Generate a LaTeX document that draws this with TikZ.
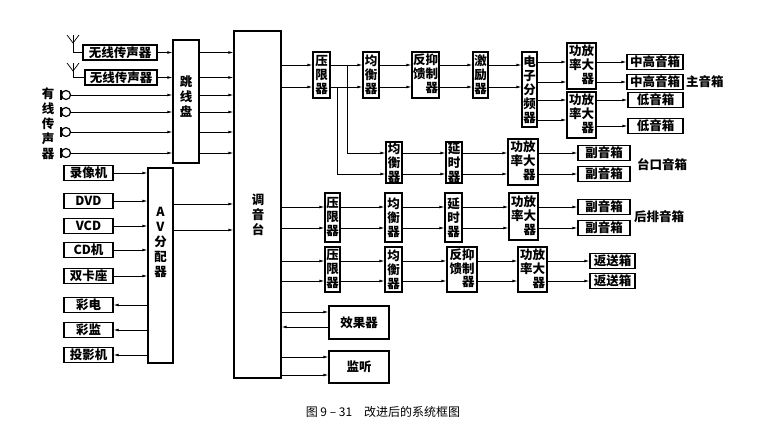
\documentclass[tikz,border=0pt]{standalone}
\usepackage{fontspec}
\setmainfont{Noto Sans CJK SC}
\usetikzlibrary{arrows.meta}
\newcommand\twocol[5]{{\renewcommand\arraystretch{0.8}\begin{tabular}{@{}c@{}c@{}}#1&#3\\#2&#4\\&#5\end{tabular}}}
\newcommand\conn[3]{\draw[arr] (#1.east |- 0,#3) -- (#2.west |- 0,#3);}
\begin{document}
\begin{tikzpicture}[x=1pt,y=-1pt,
  box/.style={draw,line width=1.2pt,inner sep=0pt,align=center,font=\fontsize{12.5}{14}\selectfont\bfseries},
  lbl/.style={inner sep=0pt,align=center,font=\fontsize{12.5}{15}\selectfont\bfseries},
  arr/.style={line width=0.7pt,-{Latex[length=5pt,width=2.8pt]}},
  ln/.style={line width=0.7pt}]
\useasboundingbox (0,0) rectangle (765,431);
% left inputs
\node[box,minimum width=74,minimum height=15] (w1) at (120,52.5) {无线传声器};
\node[box,minimum width=72,minimum height=15] (w2) at (121,77.5) {无线传声器};
\node[box,minimum width=26,minimum height=123,text depth=0] (tx) at (186,101.5) {};
\node[lbl] (txl) at (186,97) {跳\\线\\盘};
\node[box,minimum width=47,minimum height=347] (con) at (257.5,204.5) {};
\node[lbl] (conl) at (258,215) {调\\音\\台};
\node[box,minimum width=25,minimum height=195] (av) at (160.5,265.5) {};
\node[lbl] (avl) at (160.5,242) {A\\V\\分\\配\\器};
\foreach \yy in {35,63}{
  \draw[ln] (67,\yy) -- (73,\yy+8) -- (79,\yy);
}
\coordinate (a1) at (73,35); \coordinate (a2) at (73,63);
\draw[ln] (a1) -- (73,52.5) -- (w1.west);
\draw[ln] (a2) -- (73,77.5) -- (w2.west);
\conn{w1}{tx}{52.5}
\conn{w2}{tx}{77.5}
\foreach \yy [count=\i] in {95,112,132,153}{
  \coordinate (m\i) at (70.5,\yy);
  \draw[line width=1.8pt] (61,\yy-5) -- (61,\yy+5);
  \draw[line width=1.2pt] (66,\yy) circle (4.5);
  \draw[arr] (m\i) -- (tx.west |- 0,\yy);
}
\node[lbl] (wired) at (48,124) {有\\线\\传\\声\\器};
\foreach \yy in {52.5,77.5,95,112,132,153}{ \conn{tx}{con}{\yy} }
% AV
\foreach \t/\yy [count=\i] in {录像机/173,DVD/201,VCD/226,CD机/250,双卡座/276}{
  \node[box,minimum width=49,minimum height=15] (s\i) at (88.5,\yy) {\t};
  \conn{s\i}{av}{\yy}
}
\foreach \t/\yy [count=\i] in {彩电/305,彩监/330,投影机/355}{
  \node[box,minimum width=49,minimum height=15] (d\i) at (88.5,\yy) {\t};
  \draw[arr] (av.west |- 0,\yy) -- (d\i.east);
}
\conn{av}{con}{204}
\conn{av}{con}{230}
% row 1
\node[box,minimum width=17,minimum height=46] (pl1) at (321.5,75) {压\\限\\器};
\node[box,minimum width=16,minimum height=46] (eq1) at (371,75) {均\\衡\\器};
\node[box,minimum width=27,minimum height=46] (fb1) at (425.5,75) {\twocol{反}{馈}{抑}{制}{器}};
\node[box,minimum width=15,minimum height=46] (ex) at (480.5,75) {激\\励\\器};
\node[box,minimum width=15,minimum height=75] (cr) at (529.5,89.5) {电\\子\\分\\频\\器};
\node[box,minimum width=29,minimum height=46] (amp1) at (581.5,66) {\twocol{功}{率}{放}{大}{器}};
\node[box,minimum width=29,minimum height=46] (amp2) at (581.5,115) {\twocol{功}{率}{放}{大}{器}};
\node[box,minimum width=56,minimum height=15] (h1) at (655,62) {中高音箱};
\node[box,minimum width=56,minimum height=15] (h2) at (655,82) {中高音箱};
\node[box,minimum width=55,minimum height=15] (l1) at (655.5,100) {低音箱};
\node[box,minimum width=55,minimum height=15] (l2) at (655.5,126) {低音箱};
\node[lbl,anchor=west] (mainl) at (686,82) {主音箱};
\foreach \yy in {65,87}{ \conn{con}{pl1}{\yy} \conn{pl1}{eq1}{\yy} \conn{eq1}{fb1}{\yy} \conn{fb1}{ex}{\yy} \conn{ex}{cr}{\yy} }
\conn{cr}{amp1}{62} \conn{cr}{amp1}{82}
\conn{cr}{amp2}{100} \conn{cr}{amp2}{120}
\conn{amp1}{h1}{62} \conn{amp1}{h2}{82}
\conn{amp2}{l1}{100} \conn{amp2}{l2}{126}
% row 2
\node[box,minimum width=16,minimum height=41] (eq2) at (394,162.5) {均\\衡\\器};
\node[box,minimum width=16,minimum height=41] (dl2) at (454,162.5) {延\\时\\器};
\node[box,minimum width=30,minimum height=46] (amp3) at (523,162) {\twocol{功}{率}{放}{大}{器}};
\node[box,minimum width=52,minimum height=15] (f1) at (604,153) {副音箱};
\node[box,minimum width=52,minimum height=15] (f2) at (604,174) {副音箱};
\node[lbl,anchor=west] (taikou) at (637,165) {台口音箱};
\draw[arr] (347,65) -- (347,153) -- (eq2.west |- 0,153);
\draw[arr] (337,87) -- (337,174) -- (eq2.west |- 0,174);
\foreach \yy in {153,174}{ \conn{eq2}{dl2}{\yy} \conn{dl2}{amp3}{\yy} }
\conn{amp3}{f1}{153} \conn{amp3}{f2}{174}
% row 3
\node[box,minimum width=15,minimum height=49] (pl3) at (332.5,217.5) {压\\限\\器};
\node[box,minimum width=17,minimum height=49] (eq3) at (393.5,217.5) {均\\衡\\器};
\node[box,minimum width=17,minimum height=49] (dl3) at (453.5,217.5) {延\\时\\器};
\node[box,minimum width=29,minimum height=47] (amp4) at (523.5,216.5) {\twocol{功}{率}{放}{大}{器}};
\node[box,minimum width=52,minimum height=15] (r1) at (604,207) {副音箱};
\node[box,minimum width=52,minimum height=15] (r2) at (604,228) {副音箱};
\node[lbl,anchor=west] (houpai) at (634,217) {后排音箱};
\foreach \yy in {207,228}{ \conn{con}{pl3}{\yy} \conn{pl3}{eq3}{\yy} \conn{eq3}{dl3}{\yy} \conn{dl3}{amp4}{\yy} }
\conn{amp4}{r1}{207} \conn{amp4}{r2}{228}
% row 4
\node[box,minimum width=15,minimum height=45] (pl4) at (332.5,269.5) {压\\限\\器};
\node[box,minimum width=17,minimum height=45] (eq4) at (393.5,269.5) {均\\衡\\器};
\node[box,minimum width=30,minimum height=45] (fb4) at (462,269.5) {\twocol{反}{馈}{抑}{制}{器}};
\node[box,minimum width=29,minimum height=45] (amp5) at (532.5,269.5) {\twocol{功}{率}{放}{大}{器}};
\node[box,minimum width=45,minimum height=15] (b1) at (612.5,261) {返送箱};
\node[box,minimum width=45,minimum height=15] (b2) at (612.5,281) {返送箱};
\foreach \yy in {261,281}{ \conn{con}{pl4}{\yy} \conn{pl4}{eq4}{\yy} \conn{eq4}{fb4}{\yy} \conn{fb4}{amp5}{\yy} }
\conn{amp5}{b1}{261} \conn{amp5}{b2}{281}
% effects, monitor
\node[box,minimum width=60,minimum height=33] (fx) at (359,322.5) {效果器};
\node[box,minimum width=60,minimum height=32] (mon) at (359,367) {监听};
\conn{con}{fx}{312}
\draw[arr] (fx.west |- 0,327) -- (con.east |- 0,327);
\conn{con}{mon}{357}
\conn{con}{mon}{375}
\node[lbl,font=\fontsize{12}{14}\selectfont] (cap) at (383,412) {图 9 – 31\quad 改进后的系统框图};
\end{tikzpicture}
\end{document}
